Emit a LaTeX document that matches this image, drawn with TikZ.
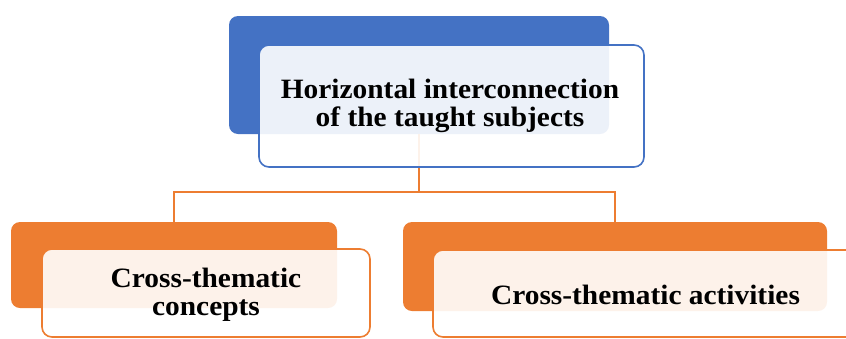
\documentclass[tikz,border=0pt]{standalone}
\usepackage{fontspec}
\setmainfont{Liberation Serif}
\definecolor{cblue}{HTML}{4472C4}
\definecolor{corange}{HTML}{ED7D31}
\begin{document}
\begin{tikzpicture}[x=1pt,y=-1pt,
  backbox/.style={rounded corners=9pt, inner sep=0pt},
  frontbox/.style={rounded corners=10pt, fill=white, fill opacity=0.9, text opacity=1, line width=1.6pt, inner sep=0pt},
  lbl/.style={font=\bfseries\fontsize{28}{28.5}\selectfont, align=center, text=black, xscale=1.05, inner sep=0pt},
  conn/.style={draw=corange, line width=1.6pt}]
\useasboundingbox (0,0) rectangle (846,338);
\begin{scope}
\clip (0,0) rectangle (846,338);
\node[backbox, fill=cblue, minimum width=380pt, minimum height=118pt] (topback) at (419,75) {};
\node[backbox, fill=corange, minimum width=326pt, minimum height=86pt] (leftback) at (174,265) {};
\node[backbox, fill=corange, minimum width=424pt, minimum height=89pt] (rightback) at (615,266.5) {};
% connectors
\coordinate (mid) at (419,192);
\draw[conn] (topback.south) -- (mid);
\draw[conn] (mid) -| (leftback.north);
\draw[conn] (mid) -| (rightback.north);
% front boxes
\node[frontbox, draw=cblue, minimum width=385pt, minimum height=122pt] (topfront) at (451.5,106) {};
\node[lbl] (toptext) at (450,106) {Horizontal interconnection\\of the taught subjects};
\node[frontbox, draw=corange, minimum width=328pt, minimum height=88pt] (leftfront) at (206,293) {};
\node[lbl] (lefttext) at (206,295) {Cross-thematic\\concepts};
\node[frontbox, draw=corange, minimum width=425pt, minimum height=87pt] (rightfront) at (645.5,293.5) {};
\node[lbl] (righttext) at (645.5,295) {Cross-thematic activities};
\end{scope}
\end{tikzpicture}
\end{document}
